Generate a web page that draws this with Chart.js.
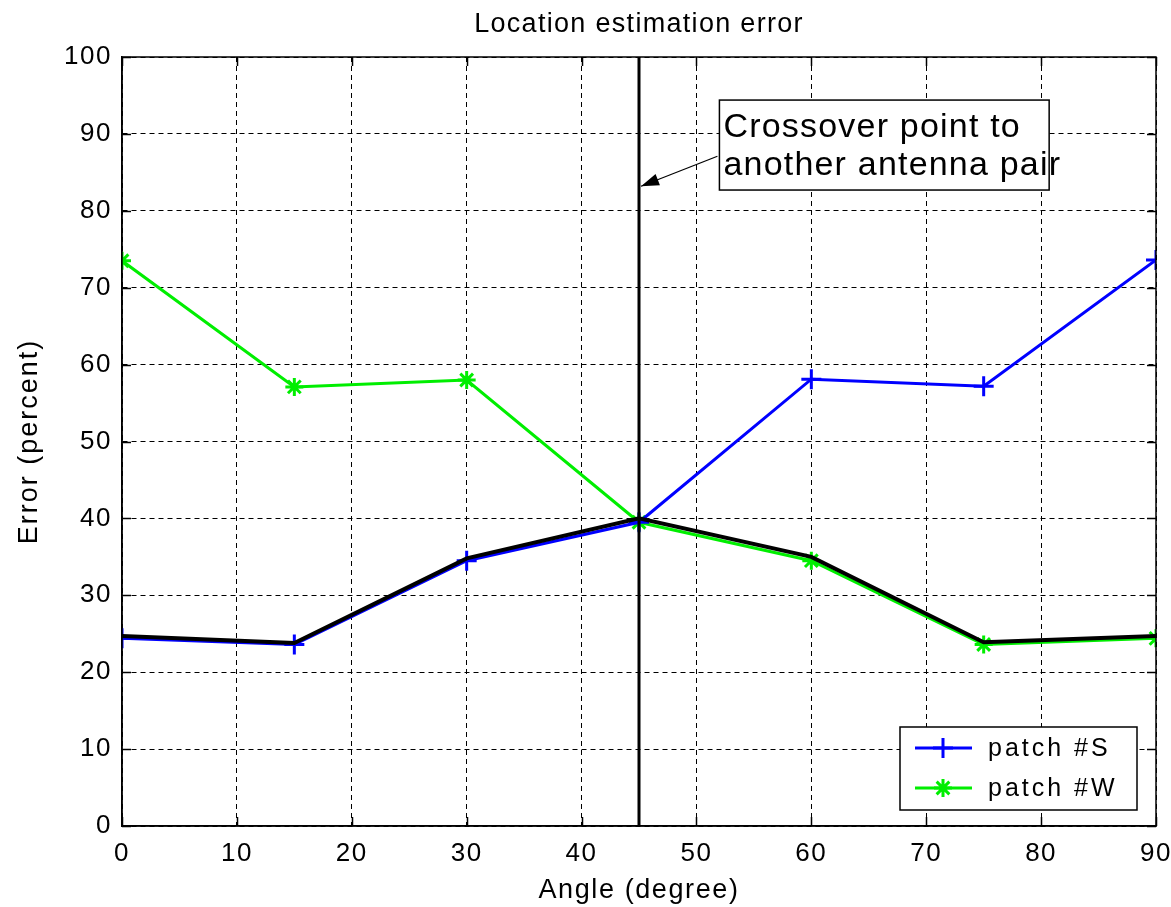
<!DOCTYPE html>
<html><head><meta charset="utf-8">
<script src="https://cdn.jsdelivr.net/npm/chart.js@4.4.0/dist/chart.umd.min.js"></script>
<style>html,body{margin:0;padding:0;background:#fff}#wrap{width:1171px;height:907px}</style>
</head><body><div id="wrap"><canvas id="c" width="1171" height="907"></canvas></div>
<script>
// ---- data ----
const angles = [0, 15, 30, 45, 60, 75, 90];
const patchS = [24.4, 23.6, 34.5, 39.5, 58.1, 57.2, 73.6];
const patchW = [73.5, 57.1, 58.0, 39.5, 34.5, 23.6, 24.4];
const minError = [24.7, 23.8, 34.8, 40.0, 35.0, 23.9, 24.7];
const crossoverAngle = 45;
const crossoverSpan = [0, 100];
const xTickValues = [0, 10, 20, 30, 40, 50, 60, 70, 80, 90];
const yTickValues = [0, 10, 20, 30, 40, 50, 60, 70, 80, 90, 100];
const seriesNames = ['patch #S', 'patch #W'];
const titleText = 'Location estimation error';
const xTitle = 'Angle (degree)';
const yTitle = 'Error (percent)';
const noteLines = ['Crossover point to', 'another antenna pair'];

const FONT = "'Liberation Sans', Arial, sans-serif";
const pts = (ys) => ys.map((v, i) => ({x: angles[i], y: v}));

const spacing = {
  id: 'spacing',
  beforeDraw(chart) { chart.ctx.letterSpacing = '1.5px'; }
};

const deco = {
  id: 'deco',
  afterDraw(chart) {
    const {ctx, chartArea: a, scales: {x, y}} = chart;
    ctx.save();
    // frame
    ctx.strokeStyle = '#000'; ctx.lineWidth = 1.5; ctx.setLineDash([]);
    ctx.strokeRect(a.left, a.top, a.right - a.left, a.bottom - a.top);
    // inward ticks
    ctx.beginPath();
    xTickValues.forEach(v => {
      const px = Math.round(x.getPixelForValue(v)) + 0.5;
      ctx.moveTo(px, a.bottom); ctx.lineTo(px, a.bottom - 9);
      ctx.moveTo(px, a.top); ctx.lineTo(px, a.top + 9);
    });
    yTickValues.forEach(v => {
      const py = Math.round(y.getPixelForValue(v)) + 0.5;
      ctx.moveTo(a.left, py); ctx.lineTo(a.left + 9, py);
      ctx.moveTo(a.right, py); ctx.lineTo(a.right - 9, py);
    });
    ctx.stroke();

    ctx.fillStyle = '#000';
    // title
    ctx.font = '27px ' + FONT; ctx.letterSpacing = '1.3px';
    ctx.textAlign = 'center'; ctx.textBaseline = 'alphabetic';
    ctx.fillText(titleText, (a.left + a.right) / 2, 32);
    // x title
    ctx.letterSpacing = '1.6px';
    ctx.fillText(xTitle, (a.left + a.right) / 2, 898);
    // y title
    ctx.save();
    ctx.translate(37, (a.top + a.bottom) / 2);
    ctx.rotate(-Math.PI / 2);
    ctx.letterSpacing = '2px';
    ctx.fillText(yTitle, 0, 0);
    ctx.restore();

    // annotation box
    const bx = x.getPixelForValue(52), by = y.getPixelForValue(94.4);
    const bw = x.getPixelForValue(80.7) - bx, bh = y.getPixelForValue(82.7) - by;
    ctx.fillStyle = '#fff';
    ctx.fillRect(bx, by, bw, bh);
    ctx.lineWidth = 1.5; ctx.strokeStyle = '#000';
    ctx.strokeRect(bx, by, bw, bh);
    ctx.fillStyle = '#000';
    ctx.font = '34px ' + FONT; ctx.letterSpacing = '1.2px';
    ctx.textAlign = 'left';
    ctx.fillText(noteLines[0], bx + 4, by + 37);
    ctx.fillText(noteLines[1], bx + 4, by + 75);
    // arrow
    const sx = bx - 2, sy = y.getPixelForValue(87.1);
    const tx = x.getPixelForValue(crossoverAngle) + 2, ty = y.getPixelForValue(83.2);
    ctx.lineWidth = 1.2;
    ctx.beginPath(); ctx.moveTo(sx, sy); ctx.lineTo(tx, ty); ctx.stroke();
    const ang = Math.atan2(ty - sy, tx - sx), L = 18, W = 6;
    ctx.beginPath();
    ctx.moveTo(tx, ty);
    ctx.lineTo(tx - L * Math.cos(ang) + W * Math.sin(ang), ty - L * Math.sin(ang) - W * Math.cos(ang));
    ctx.lineTo(tx - L * Math.cos(ang) - W * Math.sin(ang), ty - L * Math.sin(ang) + W * Math.cos(ang));
    ctx.closePath(); ctx.fill();

    // legend
    const lx = a.right - 19 - 237, ly = a.bottom - 16 - 83;
    ctx.fillStyle = '#fff'; ctx.fillRect(lx, ly, 237, 83);
    ctx.strokeStyle = '#000'; ctx.lineWidth = 1.5; ctx.strokeRect(lx, ly, 237, 83);
    const rows = [{c: '#0000ff', s: 'cross', r: 10}, {c: '#00ee00', s: 'star', r: 9}];
    rows.forEach((row, i) => {
      const yy = ly + 21 + i * 40;
      ctx.strokeStyle = row.c; ctx.lineWidth = 3;
      ctx.beginPath(); ctx.moveTo(lx + 15, yy); ctx.lineTo(lx + 72, yy); ctx.stroke();
      Chart.helpers.drawPoint(ctx, {pointStyle: row.s, radius: row.r, borderWidth: 3, rotation: 0}, lx + 43, yy);
      ctx.fillStyle = '#000';
      ctx.font = '25px ' + FONT; ctx.letterSpacing = '3px';
      ctx.textAlign = 'left'; ctx.textBaseline = 'middle';
      ctx.fillText(seriesNames[i], lx + 88, yy + 1);
    });
    ctx.restore();
  }
};

new Chart(document.getElementById('c'), {
  type: 'line',
  data: {
    datasets: [
      {label: 'min', data: pts(minError), borderColor: '#000', borderWidth: 4, pointRadius: 0, order: 0, tension: 0},
      {label: 'crossover', data: crossoverSpan.map(v => ({x: crossoverAngle, y: v})), borderColor: '#000', borderWidth: 3, pointRadius: 0, order: 1},
      {label: seriesNames[0], data: pts(patchS), borderColor: '#0000ff', borderWidth: 3, pointStyle: 'cross', pointRadius: 10, pointBorderWidth: 3, pointBorderColor: '#0000ff', order: 2},
      {label: seriesNames[1], data: pts(patchW), borderColor: '#00ee00', borderWidth: 3, pointStyle: 'star', pointRadius: 9, pointBorderWidth: 3, pointBorderColor: '#00ee00', order: 3}
    ]
  },
  options: {
    responsive: false, animation: false, devicePixelRatio: 1,
    layout: {padding: {top: 57, right: 0, left: 0, bottom: 0}},
    plugins: {legend: {display: false}, title: {display: false}, tooltip: {enabled: false}},
    scales: {
      x: {
        type: 'linear', min: 0, max: 90,
        afterBuildTicks: s => { s.ticks = xTickValues.map(v => ({value: v})); },
        afterFit: s => { s.height = 81; s.paddingRight = 15; s.paddingLeft = 0; },
        ticks: {color: '#000', font: {family: FONT, size: 26}, padding: 12, maxRotation: 0},
        grid: {color: '#000', lineWidth: 1, drawTicks: false},
        border: {display: true, color: '#000', width: 1.5, dash: [5, 4]}
      },
      y: {
        min: 0, max: 100,
        afterBuildTicks: s => { s.ticks = yTickValues.map(v => ({value: v})); },
        afterFit: s => { s.width = 122; s.paddingTop = 0; s.paddingBottom = 0; },
        ticks: {color: '#000', font: {family: FONT, size: 26}, padding: 10},
        grid: {color: '#000', lineWidth: 1, drawTicks: false},
        border: {display: true, color: '#000', width: 1.5, dash: [5, 4]}
      }
    }
  },
  plugins: [spacing, deco]
});
</script>
</body></html>
